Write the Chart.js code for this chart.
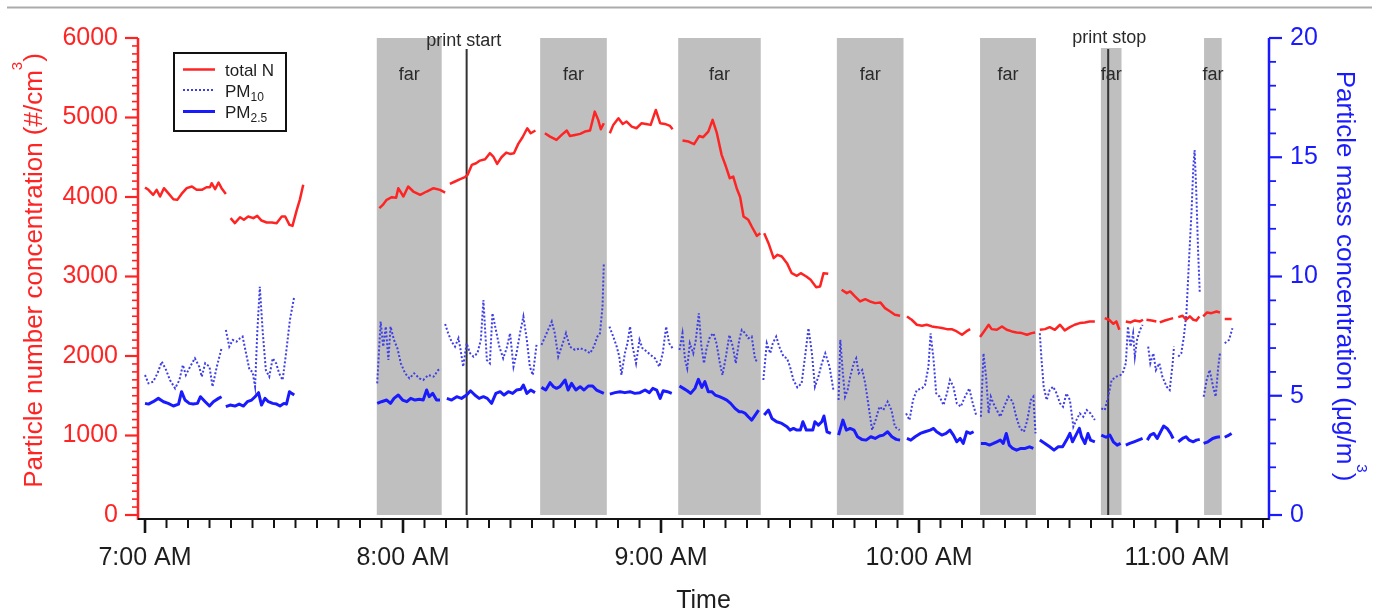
<!DOCTYPE html>
<html><head><meta charset="utf-8">
<script src="https://cdn.jsdelivr.net/npm/chart.js@4.4.1/dist/chart.umd.min.js"></script>
<style>html,body{margin:0;padding:0;background:#fff;}#wrap{width:1383px;height:613px;position:relative;}</style>
</head><body><div id="wrap"><canvas id="c"></canvas></div>
<script>
// ---- data (time in minutes after 7:00 AM; null = gap in the record) ----
const hourTicks  = [0, 60, 120, 180, 240];
const hourLabels = ['7:00 AM', '8:00 AM', '9:00 AM', '10:00 AM', '11:00 AM'];
const leftTicks  = [0, 1000, 2000, 3000, 4000, 5000, 6000];
const rightTicks = [0, 5, 10, 15, 20];

const totalN = [
 [0,4120],[0.8,4090],[1.9,4027],[2.7,4090],[3.5,4006],[4.4,4111],[5.4,4048],[6.6,3972],[7.5,3964],[8.5,4039],[9.7,4111],[10.9,4132],[12.0,4090],[13.2,4090],[14.3,4123],[15.1,4123],[15.5,4173],[16.3,4098],[17.1,4182],[17.8,4111],[18.8,4039],
 null,
 [19.9,3734],[20.9,3671],[22.1,3746],[23.0,3713],[24.0,3755],[25.2,3734],[26.1,3763],[27.1,3704],[28.3,3679],[29.5,3679],[30.6,3671],[31.8,3755],[32.6,3755],[33.6,3650],[34.3,3637],[35.3,3838],[36.0,3964],[36.8,4153],
 null,
 [54.5,3860],[55.3,3900],[56.2,3964],[57.4,3997],[58.4,3990],[58.9,4111],[60.1,4006],[61.2,4132],[62.4,4069],[64.0,4027],[65.5,4069],[67.1,4111],[68.6,4090],[69.8,4056],
 null,
 [70.9,4165],[72.1,4195],[73.3,4224],[74.4,4249],[75.0,4278],[76.0,4404],[77.0,4425],[77.9,4458],[79.1,4475],[80.2,4551],[81.0,4509],[81.9,4417],[82.9,4500],[84.0,4559],[84.9,4542],[85.8,4551],[86.8,4668],[87.8,4752],[88.9,4865],[89.7,4802],[90.8,4836],
 null,
 [93.0,4802],[94.2,4760],[95.7,4718],[96.9,4781],[98.1,4836],[98.8,4768],[100.0,4781],[101.2,4794],[102.3,4823],[103.5,4836],[104.6,5074],[105.4,4970],[106.0,4852],[106.7,4928],
 null,
 [108.1,4802],[108.9,4907],[110.1,4991],[111.1,4919],[112.0,4949],[113.2,4886],[114.3,4865],[115.5,4928],[116.5,4919],[117.6,4907],[118.8,5095],[119.8,4928],[120.9,4919],[122.1,4894],[122.7,4852],
 null,
 [125.0,4710],[126.4,4697],[127.7,4664],[128.9,4768],[129.8,4752],[131.0,4823],[132.0,4970],[133.0,4802],[134.1,4530],[135.1,4383],[136.0,4236],[136.8,4257],[137.6,4111],[138.4,4000],[139.2,3755],[140.3,3713],[141.1,3629],[142.3,3511],[143.1,3545],
 null,
 [144.0,3545],[145.0,3419],[146.2,3231],[147.1,3273],[148.1,3252],[149.3,3168],[150.4,3042],[151.6,3009],[152.5,3042],[153.8,3000],[154.8,2958],[156.1,2866],[157.0,2875],[157.8,3042],[158.9,3034],
 null,
 [162.0,2833],[163.2,2791],[164.0,2812],[165.1,2749],[166.3,2686],[167.5,2715],[168.6,2686],[169.8,2665],[171.0,2674],[172.1,2602],[173.3,2560],[174.4,2518],[175.6,2506],
 null,
 [177.2,2497],[178.3,2456],[179.5,2393],[180.7,2380],[181.8,2393],[183.0,2372],[184.1,2363],[185.3,2351],[186.5,2338],[187.6,2338],[188.8,2309],[190.0,2267],[191.0,2309],[191.9,2338],
 null,
 [194.2,2238],[195.4,2330],[196.2,2393],[196.9,2338],[198.1,2330],[199.3,2372],[200.4,2330],[201.6,2309],[202.7,2296],[203.9,2288],[205.1,2267],[206.2,2288],[207.0,2296],
 null,
 [208.1,2330],[209.3,2338],[210.4,2363],[211.6,2330],[212.8,2393],[213.9,2322],[215.1,2363],[216.2,2393],[217.4,2414],[218.6,2422],[219.7,2435],[220.9,2435],
 null,
 [223.2,2477],[224.2,2456],[225.2,2405],[225.9,2435],[226.6,2330],
 null,
 [228.1,2435],[229.2,2422],[230.2,2447],[231.4,2435],[232.1,2456],
 null,
 [232.9,2456],[234.1,2447],[235.2,2435],
 null,
 [236.0,2422],[237.2,2447],[238.3,2464],[239.1,2477],
 null,
 [240.3,2489],[241.3,2506],[242.1,2456],[243.0,2498],[243.8,2456],[244.5,2447],[245.2,2498],
 null,
 [246.1,2498],[247.0,2548],[248.0,2539],[249.2,2560],[250.0,2548],
 null,
 [251.1,2464],[252.7,2464]
];

const pm10 = [
 [0,5.87],[0.8,5.52],[1.9,5.59],[2.9,5.94],[3.9,6.43],[4.9,6.08],[5.8,5.66],[7.0,5.31],[8.0,5.66],[8.8,6.29],[9.5,5.87],[10.5,6.22],[11.6,6.57],[12.6,6.22],[13.2,5.80],[14.0,6.36],[15.0,6.22],[15.7,5.38],[16.7,6.22],[17.8,6.99],
 null,
 [18.8,7.76],[19.6,7.06],[20.4,7.34],[21.3,7.27],[22.1,7.41],[22.7,7.48],[23.5,6.78],[24.3,6.08],[25.0,6.01],[25.6,5.38],[26.1,7.62],[26.7,9.57],[27.4,7.62],[28.1,6.08],[28.9,5.80],[29.7,6.57],[30.5,6.36],[31.2,5.94],[32.0,5.66],[32.8,6.78],[33.7,8.18],[34.7,9.15],
 null,
 [54.0,5.52],[54.8,8.11],[55.4,7.06],[56.0,7.90],[56.6,6.50],[57.1,7.90],[57.9,7.34],[58.7,6.99],[59.5,6.36],[60.5,5.94],[61.5,5.73],[62.6,5.94],[63.8,5.73],[64.7,5.66],[65.9,5.87],[67.1,5.80],[68.2,6.08],[68.9,6.10],
 null,
 [69.8,8.01],[70.5,7.62],[71.3,7.27],[72.1,7.06],[72.9,7.41],[73.4,6.92],[74.0,6.22],[74.8,7.20],[75.6,6.78],[76.4,6.64],[77.3,6.78],[78.1,7.34],[78.7,9.01],[79.5,6.50],[80.2,6.36],[80.8,8.46],[81.6,7.76],[82.4,7.06],[83.3,6.57],[84.1,6.99],[84.9,7.62],[85.7,6.22],[86.4,6.78],[87.2,7.62],[88.0,8.32],[88.8,7.34],[89.5,6.22],[90.2,5.87],[91.1,7.20],
 null,
 [92.2,7.13],[93.4,7.62],[94.6,8.11],[95.3,7.62],[96.1,6.64],[96.9,7.06],[97.9,7.62],[98.8,7.06],[100.0,6.92],[101.2,6.99],[102.3,6.92],[103.5,6.78],[104.4,7.06],[105.2,7.48],[105.8,7.62],[106.4,8.73],[106.7,10.55],
 null,
 [108.0,7.90],[108.9,7.48],[109.7,7.06],[110.3,6.64],[110.8,5.87],[111.6,6.78],[112.2,7.20],[112.8,7.90],[113.4,7.06],[114.2,6.36],[115.0,7.34],[115.7,6.99],[116.7,6.85],[117.6,6.71],[118.6,6.57],[119.6,6.22],[120.4,6.78],[121.2,7.90],[121.9,7.20],[122.7,6.99],
 null,
 [124.3,6.92],[125.0,7.62],[125.6,6.50],[126.1,6.15],[126.7,7.20],[127.5,6.78],[128.1,7.34],[128.8,8.46],[129.4,7.06],[130.0,6.36],[130.6,6.99],[131.4,7.48],[132.2,7.62],[132.9,7.20],[133.7,6.36],[134.3,5.87],[135.1,6.64],[135.9,7.55],[136.7,7.06],[137.4,6.36],[138.2,7.34],[138.8,7.76],[139.6,7.62],[140.3,7.41],[141.1,7.48],[141.9,6.50],[142.7,6.43],
 null,
 [143.8,5.66],[144.6,7.20],[145.4,6.78],[146.0,7.20],[146.8,7.48],[147.5,7.06],[148.5,6.64],[149.3,6.57],[150.0,6.22],[150.8,5.66],[151.7,5.35],[152.7,5.52],[153.5,6.64],[154.3,7.83],[155.1,6.78],[155.8,5.38],[156.6,5.80],[157.4,6.36],[158.2,6.78],[159.2,6.22],[160.1,5.24],
 null,
 [161.3,4.82],[161.7,7.34],[162.3,5.94],[162.8,4.96],[163.4,5.24],[164.0,5.80],[164.8,6.36],[165.4,6.57],[166.0,5.94],[166.8,6.08],[167.5,5.52],[168.3,4.54],[169.1,3.56],[169.9,3.98],[170.8,4.54],[171.7,4.40],[172.7,4.75],[173.6,4.40],[174.4,3.70],[175.5,3.56],
 null,
 [177.0,4.26],[177.8,3.98],[178.6,4.82],[179.5,5.24],[180.7,5.31],[181.4,5.45],[182.2,6.22],[182.7,7.62],[183.4,6.50],[184.0,5.10],[184.8,4.96],[185.7,4.61],[186.5,5.10],[187.2,5.66],[188.0,5.38],[188.8,4.68],[189.7,4.54],[190.7,4.96],[191.7,5.31],[192.5,4.68],[193.3,4.19],
 null,
 [194.4,4.12],[195.0,6.78],[195.6,5.80],[196.2,4.26],[196.7,4.96],[197.3,4.68],[198.1,4.40],[198.9,4.12],[199.8,4.54],[200.8,4.96],[201.8,4.75],[202.6,4.12],[203.5,3.63],[204.4,3.49],[205.2,3.98],[206.0,4.82],[206.6,4.96],[207.1,3.42],
 null,
 [208.1,7.62],[208.5,6.50],[209.0,5.38],[209.7,4.82],[210.4,5.24],[211.2,5.38],[212.0,5.10],[212.8,4.68],[213.5,4.54],[214.3,5.10],[215.1,4.82],[215.9,3.70],[216.6,3.98],[217.4,4.26],[218.2,4.12],[219.0,4.40],[219.9,4.26],[220.9,3.98],
 null,
 [222.4,4.47],[223.2,4.40],[224.0,4.96],[224.8,5.66],[225.9,5.80],[226.9,5.87],[227.5,6.01],[228.1,6.36],[228.6,7.90],[229.2,7.06],[229.8,7.62],[230.2,6.64],[230.7,7.34],[231.4,7.76],[232.0,7.97],
 null,
 [233.3,7.06],[233.8,6.36],[234.5,6.78],[235.1,6.08],[235.9,6.36],[236.6,5.80],[237.6,5.38],[238.3,5.24],[239.0,6.36],[239.3,7.06],
 null,
 [240.3,6.64],[241.0,6.78],[241.6,7.48],[242.2,8.46],[242.8,10.69],[243.4,12.79],[243.8,14.60],[244.1,15.30],[244.5,13.49],[244.9,11.11],[245.3,9.30],
 null,
 [246.2,4.96],[246.9,5.66],[247.6,6.08],[248.4,5.38],[249.0,4.96],[249.6,6.22],[250.0,6.78],
 null,
 [251.1,7.20],[252.1,7.34],[252.9,7.83]
];

const pm25 = [
 [0,4.68],[0.8,4.65],[1.9,4.75],[3.1,4.89],[4.3,4.75],[5.4,4.68],[6.6,4.57],[7.8,4.65],[8.5,5.17],[9.3,4.82],[10.3,4.68],[11.2,4.65],[12.2,4.68],[12.9,4.96],[14.0,4.75],[15.0,4.57],[15.9,4.75],[17.1,4.89],[17.8,4.96],
 null,
 [18.8,4.54],[19.8,4.61],[20.9,4.57],[21.9,4.65],[22.9,4.57],[23.8,4.75],[24.8,4.82],[25.6,4.96],[26.4,5.13],[27.1,4.61],[27.9,4.89],[28.7,4.75],[29.7,4.68],[30.6,4.65],[31.4,4.57],[32.3,4.68],[32.9,4.65],[33.6,5.17],[34.1,5.10],[34.7,5.03],
 null,
 [54.0,4.68],[55.0,4.75],[56.2,4.82],[57.1,4.68],[57.9,4.89],[58.9,5.03],[59.9,4.82],[60.9,4.75],[61.8,4.89],[62.8,4.82],[63.8,4.85],[64.7,4.82],[65.5,5.24],[66.1,4.96],[66.9,5.10],[67.8,4.82],[68.6,4.82],
 null,
 [70.2,4.89],[71.3,4.82],[72.5,4.96],[73.6,4.89],[74.8,5.03],[75.7,5.21],[76.7,5.03],[77.7,4.89],[78.7,4.96],[79.6,4.89],[80.6,4.68],[81.6,5.10],[82.6,5.17],[83.5,5.03],[84.5,5.17],[85.5,5.10],[86.4,5.24],[87.4,5.27],[88.0,5.45],[88.8,5.10],[89.7,5.24],[90.7,5.13],
 null,
 [92.2,5.35],[93.2,5.24],[94.2,5.55],[95.0,5.38],[95.7,5.31],[96.5,5.38],[97.7,5.66],[98.4,5.24],[99.2,5.52],[100.2,5.24],[101.2,5.38],[102.1,5.24],[103.1,5.41],[104.1,5.41],[105.0,5.24],[105.8,5.17],[106.7,5.10],
 null,
 [108.1,5.07],[109.3,5.13],[110.5,5.17],[111.6,5.13],[112.8,5.17],[113.9,5.10],[115.1,5.13],[116.3,5.24],[117.3,5.13],[118.1,5.31],[119.0,5.24],[119.8,4.89],[120.5,5.21],[121.5,5.17],[122.5,5.10],
 null,
 [124.3,5.41],[125.2,5.31],[126.1,5.21],[126.9,5.10],[127.9,5.31],[128.7,5.69],[129.5,5.35],[130.2,5.59],[131.0,5.17],[131.8,5.17],[132.6,5.03],[133.6,4.96],[134.5,4.89],[135.3,4.82],[136.2,4.68],[137.2,4.47],[138.2,4.33],[138.8,4.33],[139.6,4.26],[140.3,4.12],[141.1,3.98],[141.9,4.19],[142.7,4.40],
 null,
 [144.0,4.19],[145.0,4.40],[145.8,4.05],[146.9,3.91],[148.1,3.84],[149.3,3.70],[150.0,3.56],[150.8,3.63],[151.6,3.56],[152.4,3.56],[153.0,3.91],[153.8,3.56],[154.5,3.56],[155.3,3.56],[155.8,3.91],[156.6,3.77],[157.4,3.91],[157.9,4.15],[158.6,3.49],[159.5,3.42],
 null,
 [161.3,3.35],[162.3,3.98],[163.1,3.56],[164.0,3.63],[164.9,3.56],[165.7,3.28],[166.7,3.17],[167.7,3.14],[168.8,3.28],[169.8,3.21],[170.8,3.31],[171.7,3.35],[172.7,3.49],[173.7,3.28],[174.7,3.17],[175.6,3.14],
 null,
 [177.2,3.21],[178.1,3.14],[179.1,3.28],[180.3,3.42],[181.4,3.49],[182.6,3.56],[183.4,3.63],[184.1,3.49],[185.3,3.35],[186.3,3.42],[187.2,3.56],[188.0,3.35],[188.8,3.07],[189.6,3.21],[190.3,3.00],[191.1,3.49],[191.9,3.42],[192.7,3.49],
 null,
 [194.4,3.00],[195.4,3.00],[196.4,2.93],[197.3,3.00],[198.1,3.07],[198.9,3.14],[199.6,3.00],[200.3,3.42],[201.0,2.93],[201.8,2.79],[202.7,2.72],[203.7,2.79],[204.7,2.79],[205.7,2.86],[206.6,2.79],
 null,
 [208.1,3.14],[209.3,3.00],[210.4,2.86],[211.4,2.72],[212.4,2.86],[213.4,2.86],[214.3,3.14],[215.1,3.42],[215.7,3.07],[216.5,3.35],[217.3,3.63],[217.8,3.28],[218.6,3.00],[219.3,3.42],[219.9,3.14],[220.9,3.07],
 null,
 [222.4,3.35],[223.5,3.26],[224.4,3.35],[225.2,3.07],[226.1,2.93],[226.9,3.00],
 null,
 [228.1,2.93],[229.0,3.00],[230.0,3.07],[231.0,3.14],[232.0,3.21],
 null,
 [233.1,3.14],[233.8,3.35],[234.6,3.42],[235.4,3.21],[236.2,3.49],[236.9,3.73],[237.7,3.63],[238.5,3.42],[239.1,3.21],
 null,
 [240.3,3.07],[241.3,3.21],[242.1,3.28],[242.8,3.14],[243.8,3.07],[244.5,3.14],[245.3,3.17],
 null,
 [246.2,3.00],[247.2,3.07],[248.3,3.21],[249.2,3.26],[250.0,3.28],
 null,
 [251.1,3.26],[252.1,3.35],[252.7,3.42]
];

// "far" measurement periods (start / end, minutes after 7:00)
const farStart = [53.9, 91.9, 124.0, 160.9, 194.2, 222.3, 246.3];
const farEnd   = [69.0, 107.4, 143.2, 176.4, 207.2, 227.1, 250.4];
const printTimes  = [74.8, 224.0];
const printLabels = ['print start', 'print stop'];
const seriesNames = [['total N', ''], ['PM', '10'], ['PM', '2.5']];
const leftTitle  = ['Particle number concentration (#/cm', '3', ')'];
const rightTitle = ['Particle mass concentration (\u03bcg/m', '3', ')'];
const xTitle = 'Time';

// ---- styles ----
const FONT = '"Liberation Sans", Arial, Helvetica, sans-serif';
const RED = '#ff2424', BLUE = '#1a1aff', DOTBLUE = '#3f3fe6';
const X_MIN = -1.63, X_MAX = 261.4, X_MINOR = 5;
const YL_MIN = -50.31, YL_MAX = 6000, YL_MINOR = 100;
const YR_MIN = -0.1677, YR_MAX = 20, YR_MINOR = 1;

function toPoints(arr) {
  const out = [];
  for (let i = 0; i < arr.length; i++) {
    const p = arr[i];
    if (p === null) { out.push({x: (arr[i-1][0] + arr[i+1][0]) / 2, y: null}); }
    else out.push({x: p[0], y: p[1]});
  }
  return out;
}
const setTicks = vals => s => { s.ticks = vals.map(v => ({value: v})); };

const decor = {
  id: 'decor',
  beforeDatasetsDraw(chart) {
    const {ctx, scales: {x, y}} = chart;
    const top = y.getPixelForValue(YL_MAX), bot = y.getPixelForValue(0);
    ctx.save();
    ctx.fillStyle = '#bfbfbf';
    for (let i = 0; i < farStart.length; i++) {
      const a = x.getPixelForValue(farStart[i]), b = x.getPixelForValue(farEnd[i]);
      ctx.fillRect(a, top, b - a, bot - top);
    }
    ctx.font = '18px ' + FONT; ctx.textAlign = 'center'; ctx.textBaseline = 'middle';
    ctx.fillStyle = '#2a2a2a';
    for (let i = 0; i < farStart.length; i++) {
      const a = x.getPixelForValue(farStart[i]), b = x.getPixelForValue(farEnd[i]);
      ctx.fillText('far', (a + b) / 2, top + 37);
    }
    for (let i = 0; i < printTimes.length; i++) {
      const px = x.getPixelForValue(printTimes[i]);
      const w = ctx.measureText(printLabels[i]).width;
      if (i === 1) { ctx.fillStyle = '#fff'; ctx.fillRect(px - w / 2 - 2, top - 8, w + 4, 18); }
      ctx.strokeStyle = '#333'; ctx.lineWidth = 2;
      ctx.beginPath(); ctx.moveTo(px, top + 11); ctx.lineTo(px, bot); ctx.stroke();
      ctx.fillStyle = '#2a2a2a';
      ctx.fillText(printLabels[i], px + (i === 0 ? -3 : 1), top + (i === 0 ? 3.5 : 0.5));
    }
    ctx.restore();
  },
  afterDraw(chart) {
    const {ctx, chartArea: ca, scales: {x, y, y2}} = chart;
    ctx.save();
    // frame line at the top of the figure
    ctx.strokeStyle = '#ababab'; ctx.lineWidth = 2;
    ctx.beginPath(); ctx.moveTo(7, 7.5); ctx.lineTo(1372, 7.5); ctx.stroke();
    ctx.lineCap = 'butt';
    // left axis
    ctx.strokeStyle = RED; ctx.lineWidth = 2.5;
    ctx.beginPath(); ctx.moveTo(ca.left, ca.top); ctx.lineTo(ca.left, ca.bottom + 1); ctx.stroke();
    for (let v = 0; v <= YL_MAX + 1e-6; v += YL_MINOR) {
      const py = y.getPixelForValue(v); const major = leftTicks.includes(v);
      ctx.lineWidth = major ? 2.2 : 1.6;
      ctx.beginPath(); ctx.moveTo(ca.left - (major ? 13 : 6), py); ctx.lineTo(ca.left, py); ctx.stroke();
    }
    // right axis
    ctx.strokeStyle = BLUE; ctx.lineWidth = 2.5;
    ctx.beginPath(); ctx.moveTo(ca.right, ca.top); ctx.lineTo(ca.right, ca.bottom + 1); ctx.stroke();
    for (let v = 0; v <= YR_MAX + 1e-6; v += YR_MINOR) {
      const py = y2.getPixelForValue(v); const major = rightTicks.includes(v);
      ctx.lineWidth = major ? 2.2 : 1.8;
      ctx.beginPath(); ctx.moveTo(ca.right, py); ctx.lineTo(ca.right + (major ? 13 : 7), py); ctx.stroke();
    }
    // bottom axis
    ctx.strokeStyle = '#141414'; ctx.lineWidth = 2;
    ctx.beginPath(); ctx.moveTo(ca.left, ca.bottom); ctx.lineTo(ca.right, ca.bottom); ctx.stroke();
    for (let v = 0; v <= X_MAX; v += X_MINOR) {
      const px = x.getPixelForValue(v); const major = hourTicks.includes(v);
      ctx.lineWidth = major ? 2.6 : 2;
      ctx.beginPath(); ctx.moveTo(px, ca.bottom); ctx.lineTo(px, ca.bottom + (major ? 14 : 9)); ctx.stroke();
    }
    // axis titles
    const drawTitle = (parts, cx, cy, ang, color) => {
      ctx.save(); ctx.translate(cx, cy); ctx.rotate(ang);
      ctx.fillStyle = color; ctx.textAlign = 'left'; ctx.textBaseline = 'alphabetic';
      const fMain = '26px ' + FONT, fSup = '15px ' + FONT;
      ctx.font = fMain; const w0 = ctx.measureText(parts[0]).width, w2 = ctx.measureText(parts[2]).width;
      ctx.font = fSup; const w1 = ctx.measureText(parts[1]).width;
      let sx = -(w0 + w1 + w2) / 2;
      ctx.font = fMain; ctx.fillText(parts[0], sx, 0); sx += w0;
      ctx.font = fSup; ctx.fillText(parts[1], sx, -20); sx += w1;
      ctx.font = fMain; ctx.fillText(parts[2], sx, 0);
      ctx.restore();
    };
    drawTitle(leftTitle, 42, 270.5, -Math.PI / 2, RED);
    drawTitle(rightTitle, 1337, 276, Math.PI / 2, BLUE);
    ctx.fillStyle = '#1e1e1e'; ctx.font = '25px ' + FONT; ctx.textAlign = 'center'; ctx.textBaseline = 'middle';
    ctx.fillText(xTitle, (ca.left + ca.right) / 2, 601);
    // legend
    const lx = 174, ly = 53, lw = 112, lh = 78;
    ctx.fillStyle = '#fff'; ctx.fillRect(lx, ly, lw, lh);
    ctx.strokeStyle = '#111'; ctx.lineWidth = 2; ctx.strokeRect(lx, ly, lw, lh);
    const baselines = [76, 96.5, 118];
    chart.data.datasets.forEach((ds, i) => {
      const by = baselines[i];
      ctx.strokeStyle = ds.borderColor; ctx.lineWidth = ds.borderWidth;
      ctx.setLineDash(ds.borderDash || []);
      ctx.beginPath(); ctx.moveTo(183, by - 6.5); ctx.lineTo(215, by - 6.5); ctx.stroke();
      ctx.setLineDash([]);
      ctx.fillStyle = '#1e1e1e'; ctx.textAlign = 'left'; ctx.textBaseline = 'alphabetic';
      ctx.font = '17px ' + FONT; ctx.fillText(seriesNames[i][0], 225, by);
      const w = ctx.measureText(seriesNames[i][0]).width;
      if (seriesNames[i][1]) { ctx.font = '12px ' + FONT; ctx.fillText(seriesNames[i][1], 225 + w, by + 4); }
    });
    ctx.restore();
  }
};

new Chart(document.getElementById('c'), {
  type: 'line',
  data: {
    datasets: [
      {label: 'total N', data: toPoints(totalN), yAxisID: 'y', borderColor: RED, borderWidth: 2.5, spanGaps: false, pointRadius: 0, borderJoinStyle: 'round'},
      {label: 'PM10', data: toPoints(pm10), yAxisID: 'y2', borderColor: DOTBLUE, borderWidth: 2, borderDash: [2, 2], spanGaps: false, pointRadius: 0},
      {label: 'PM2.5', data: toPoints(pm25), yAxisID: 'y2', borderColor: BLUE, borderWidth: 3, spanGaps: false, pointRadius: 0, borderJoinStyle: 'round'}
    ]
  },
  options: {
    responsive: true, maintainAspectRatio: false, animation: false,
    layout: {padding: {top: 38, left: 0, right: 0, bottom: 0}},
    plugins: {legend: {display: false}, tooltip: {enabled: false}, title: {display: false}},
    elements: {line: {tension: 0}, point: {radius: 0}},
    scales: {
      x: {type: 'linear', min: X_MIN, max: X_MAX, grid: {display: false, drawTicks: false}, border: {display: false},
        afterBuildTicks: setTicks(hourTicks),
        ticks: {autoSkip: false, maxRotation: 0, minRotation: 0, padding: 24,
          color: '#1e1e1e', font: {family: FONT, size: 25},
          callback: v => hourLabels[hourTicks.indexOf(v)]},
        afterFit: s => { s.height = 94; }},
      y: {type: 'linear', position: 'left', min: YL_MIN, max: YL_MAX, grid: {display: false, drawTicks: false}, border: {display: false},
        afterBuildTicks: setTicks(leftTicks),
        ticks: {padding: 20, color: RED, font: {family: FONT, size: 25}, callback: v => String(v)},
        afterFit: s => { s.width = 138; }},
      y2: {type: 'linear', position: 'right', min: YR_MIN, max: YR_MAX, grid: {display: false, drawTicks: false}, border: {display: false},
        afterBuildTicks: setTicks(rightTicks),
        ticks: {padding: 21, color: BLUE, font: {family: FONT, size: 25}, callback: v => String(v)},
        afterFit: s => { s.width = 114; }}
    }
  },
  plugins: [decor]
});
</script>
</body></html>
